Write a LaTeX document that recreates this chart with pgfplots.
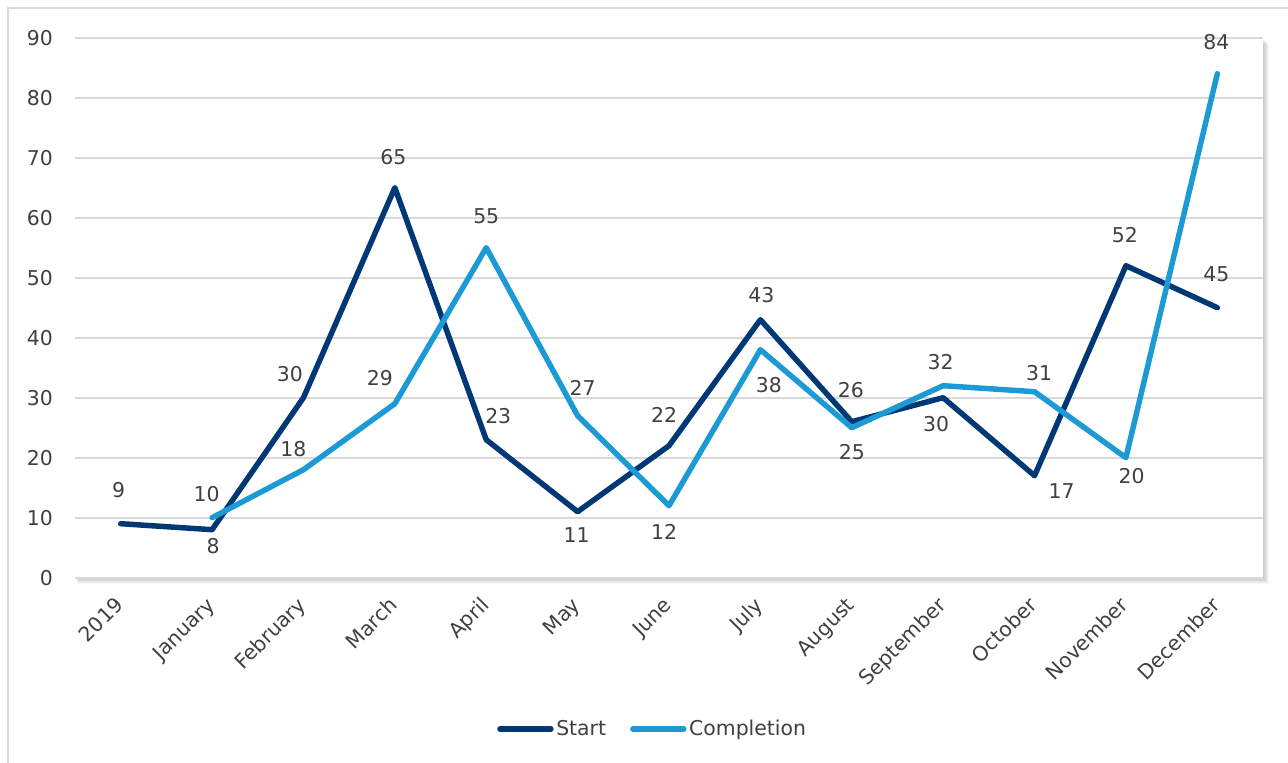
\documentclass[border=0pt]{standalone}
\usepackage{pgfplots}
\pgfplotsset{compat=1.18}
\usepackage{fontspec}
\setmainfont{DejaVu Sans}

\definecolor{startblue}{HTML}{003876}
\definecolor{compblue}{HTML}{1B9AD6}
\definecolor{gridgray}{HTML}{D9D9D9}
\definecolor{labelgray}{HTML}{404040}
\newcommand\chartfont{\fontsize{15.3pt}{18pt}\selectfont}

\begin{document}
\begin{tikzpicture}
\useasboundingbox (0pt,0pt) rectangle (966pt,572.25pt);
\fill[white] (0pt,0pt) rectangle (966pt,572.25pt);
% outer chart frame
\draw[gridgray, line width=1.5pt] (6pt,-2pt) -- (6pt,566.25pt) -- (968pt,566.25pt);
% soft drop shadow of the plot area
\foreach \k in {1,...,6} {
  \fill[black, opacity=0.035] ({56.25pt+0.375pt*\k}, {543.975pt-0.75pt*\k})
     rectangle ({947.25pt+0.75pt*\k}, {138.975pt-0.75pt*\k});
}
\begin{axis}[
  at={(56.25pt,138.975pt)}, anchor=south west,
  scale only axis, width=891pt, height=405pt,
  xmin=-0.5, xmax=12.5, ymin=0, ymax=90,
  clip=false,
  axis background/.style={fill=white},
  axis line style={draw=none},
  major tick length=0pt,
  ymajorgrids,
  grid style={gridgray, line width=1.5pt},
  ytick={0,10,...,90},
  xtick={0,...,12},
  xticklabels={2019,January,February,March,April,May,June,July,August,September,October,November,December},
  /pgf/number format/assume math mode=true,
  tick label style={font=\chartfont, text=labelgray},
  yticklabel style={anchor=east, inner sep=0pt, xshift=-16.5pt},
  xticklabel style={inner sep=0pt, xshift=3pt, yshift=-21.5pt, rotate=45, anchor=base east},
  legend style={at={(0.4865,-0.280)}, anchor=center, draw=none, fill=none,
    font=\chartfont, text=labelgray, legend columns=2,
    /tikz/every even column/.append style={column sep=16pt}},
  legend image code/.code={\draw[#1, line cap=round] (2pt,0pt) -- (40pt,0pt);},
  every node near coord/.style={font=\chartfont, text=labelgray, anchor=center, inner sep=0pt},
  value label/.style={
    visualization depends on={value \thisrow{dx} \as \dx},
    visualization depends on={value \thisrow{up} \as \up},
    nodes near coords,
    nodes near coords style={xshift=\dx*0.75pt, yshift=\up*0.75pt}},
]
\addlegendimage{startblue, line width=4.3pt}
\addlegendentry{Start}
\addlegendimage{compblue, line width=4.3pt}
\addlegendentry{Completion}
% monthly starts; dx/up offset each value label (px, up positive)
\addplot[forget plot, startblue, line width=4.1pt, line join=round, line cap=round, value label]
  table[x=x, y=y] {
x y dx up
0 9 -2 34
1 8 1 -16
2 30 -13.5 24
3 65 -1.5 31
4 23 12 24
5 11 -1 -23
6 22 -5 31
7 43 1 25
8 26 -1 32
9 30 -7 -26
10 17 27 -15
11 52 -1 31
12 45 -1 33
};
% monthly completions
\addplot[forget plot, compblue, line width=4.1pt, line join=round, line cap=round, value label]
  table[x=x, y=y] {
x y dx up
1 10 -5.4 24
2 18 -10 21
3 29 -15 26
4 55 0 31.5
5 27 5 28
6 12 -5 -26
7 38 8.5 -35
8 25 0 -24
9 32 -2.6 24
10 31 4.6 19
11 20 5.6 -18
12 84 -1 32
};
\end{axis}
\end{tikzpicture}
\end{document}
